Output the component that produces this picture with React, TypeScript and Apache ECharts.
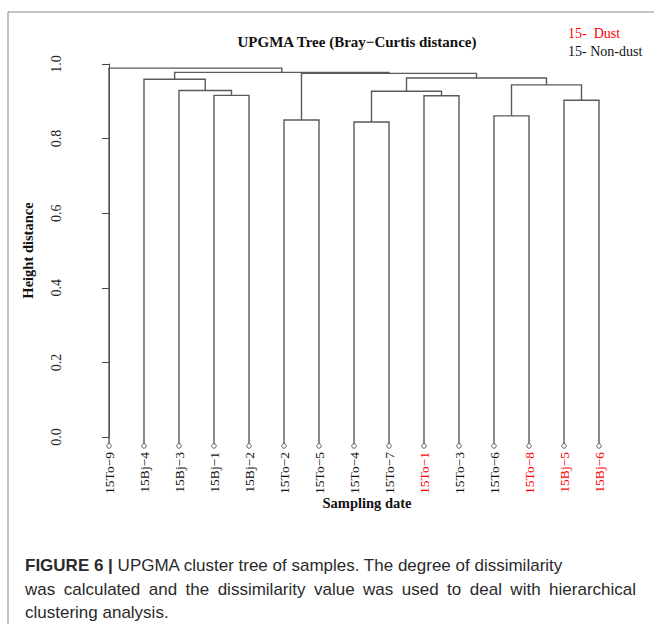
import React, { useEffect, useRef } from "react";
import * as echarts from "echarts";

// Leaf order along the x axis (left to right)
const leafLabels = [
  "15To−9", "15Bj−4", "15Bj−3", "15Bj−1", "15Bj−2",
  "15To−2", "15To−5", "15To−4", "15To−7", "15To−1",
  "15To−3", "15To−6", "15To−8", "15Bj−5", "15Bj−6",
];
// Samples collected on dust days (drawn in red)
const dustSamples = ["15To−1", "15To−8", "15Bj−5", "15Bj−6"];

// hclust-style merge table: negative = leaf (1-based position), positive = earlier merge step
const mergeLeft = [-8, -6, -12, -14, -10, -4, 1, -3, 3, -2, 7, 2, 10, -1];
const mergeRight = [-9, -7, -13, -15, -11, -5, 5, 6, 4, 8, 9, 11, 12, 13];
const mergeHeight = [
  0.8445, 0.85, 0.861, 0.903, 0.915, 0.916, 0.927, 0.929, 0.944, 0.959,
  0.9625, 0.975, 0.9775, 0.989,
];

const yTicks = [0, 0.2, 0.4, 0.6, 0.8, 1.0];
const leafHang = -0.024;

const captionLines = [
  "UPGMA cluster tree of samples. The degree of dissimilarity",
  "was calculated and the dissimilarity value was used to deal with hierarchical",
  "clustering analysis.",
];

const SERIF = "'Liberation Serif', 'Times New Roman', serif";
const SANS = "'Liberation Sans', Arial, sans-serif";
const RED = "#ff0000";
const CAPTION_FONT = `17px ${SANS}`;
const CAPTION_COLOR = "#2a2a2a";

// Build the U-shaped links: [xLeft, hLeft, xRight, hRight, hMerge]
function buildLinks() {
  const nodeX: number[] = [];
  const nodeH: number[] = [];
  const child = (id: number) =>
    id < 0 ? { x: -id - 1, h: leafHang } : { x: nodeX[id - 1], h: nodeH[id - 1] };
  const links: number[][] = [];
  mergeLeft.forEach((l, i) => {
    const a = child(l);
    const b = child(mergeRight[i]);
    const h = mergeHeight[i];
    nodeX.push((a.x + b.x) / 2);
    nodeH.push(h);
    links.push([a.x, a.h, b.x, b.h, h]);
  });
  return links;
}

// Lay out one caption line justified between x0 and x1
function justifiedWords(text: string, x0: number, x1: number, y: number) {
  const ctx = document.createElement("canvas").getContext("2d");
  const words = text.split(" ");
  if (!ctx) return [];
  ctx.font = CAPTION_FONT;
  const widths = words.map((w) => ctx.measureText(w).width);
  const total = widths.reduce((s, w) => s + w, 0);
  const gap = (x1 - x0 - total) / (words.length - 1);
  let x = x0;
  return words.map((w, i) => {
    const el = {
      type: "text",
      x,
      y,
      style: { text: w, font: CAPTION_FONT, fill: CAPTION_COLOR, verticalAlign: "middle" },
    };
    x += widths[i] + gap;
    return el;
  });
}

export default function App() {
  const ref = useRef<HTMLDivElement>(null);

  useEffect(() => {
    document.body.style.margin = "0";
    if (!ref.current) return;
    const chart = echarts.init(ref.current, null, { renderer: "svg" });
    const links = buildLinks();
    const leaves = leafLabels.map((_, i) => [i, leafHang]);
    const lineColor = "#5a5a5a";

    chart.setOption({
      animation: false,
      backgroundColor: "#fff",
      grid: { left: 109, right: 55, top: 64, bottom: 187, containLabel: false },
      xAxis: {
        type: "value",
        min: 0,
        max: leafLabels.length - 1,
        interval: 1,
        axisLine: { show: false },
        axisTick: { show: false },
        splitLine: { show: false },
        axisLabel: {
          rotate: 90,
          margin: 15,
          showMinLabel: true,
          showMaxLabel: true,
          hideOverlap: false,
          fontFamily: SERIF,
          fontSize: 13.5,
          formatter: (v: number) => leafLabels[v] ?? "",
          color: (v: any) => (dustSamples.includes(leafLabels[Number(v)]) ? RED : "#111"),
        },
      },
      yAxis: {
        type: "value",
        min: 0,
        max: 1,
        interval: 0.2,
        offset: 39,
        name: "Height distance",
        nameLocation: "middle",
        nameRotate: 90,
        nameGap: 35,
        nameTextStyle: { fontFamily: SERIF, fontWeight: "bold", fontSize: 14.5, color: "#111" },
        axisLine: { show: true, lineStyle: { color: "#444", width: 1 } },
        axisTick: { show: true, length: 7, lineStyle: { color: "#444" } },
        splitLine: { show: false },
        axisLabel: {
          rotate: 90,
          margin: 7,
          fontFamily: SERIF,
          fontSize: 14,
          color: "#222",
          customValues: yTicks,
          formatter: (v: number) => v.toFixed(1),
        },
      },
      series: [
        {
          type: "custom",
          clip: false,
          silent: true,
          data: links,
          renderItem: (_p: any, api: any) => {
            const p1 = api.coord([api.value(0), api.value(1)]);
            const p2 = api.coord([api.value(0), api.value(4)]);
            const p3 = api.coord([api.value(2), api.value(4)]);
            const p4 = api.coord([api.value(2), api.value(3)]);
            return {
              type: "polyline",
              shape: { points: [p1, p2, p3, p4] },
              style: { stroke: lineColor, lineWidth: 1.4, fill: "none" },
            };
          },
        },
        {
          type: "custom",
          clip: false,
          silent: true,
          data: leaves,
          renderItem: (_p: any, api: any) => {
            const c = api.coord([api.value(0), api.value(1)]);
            return {
              type: "circle",
              shape: { cx: c[0], cy: c[1], r: 2.3 },
              style: { stroke: "#666", lineWidth: 1, fill: "#fff" },
            };
          },
        },
      ],
      graphic: [
        { type: "line", shape: { x1: 8, y1: 12, x2: 654, y2: 12 }, style: { stroke: "#888", lineWidth: 1 } },
        { type: "line", shape: { x1: 8, y1: 12, x2: 8, y2: 624 }, style: { stroke: "#888", lineWidth: 1 } },
        {
          type: "text",
          x: 357,
          y: 42,
          style: {
            text: "UPGMA Tree (Bray−Curtis distance)",
            font: `bold 15px ${SERIF}`,
            fill: "#111",
            align: "center",
            verticalAlign: "middle",
          },
        },
        {
          type: "text",
          x: 568,
          y: 33,
          style: { text: "15-  Dust", font: `14px ${SERIF}`, fill: RED, align: "left", verticalAlign: "middle" },
        },
        {
          type: "text",
          x: 568,
          y: 51,
          style: { text: "15- Non-dust", font: `14px ${SERIF}`, fill: "#111", align: "left", verticalAlign: "middle" },
        },
        {
          type: "text",
          x: 367,
          y: 503,
          style: {
            text: "Sampling date",
            font: `bold 14.5px ${SERIF}`,
            fill: "#111",
            align: "center",
            verticalAlign: "middle",
          },
        },
        {
          type: "text",
          x: 25,
          y: 565,
          style: {
            text: `{b|FIGURE 6 |} ${captionLines[0]}`,
            font: CAPTION_FONT,
            fill: CAPTION_COLOR,
            verticalAlign: "middle",
            rich: { b: { font: `bold 17px ${SANS}`, fill: CAPTION_COLOR } },
          },
        },
        ...justifiedWords(captionLines[1], 25, 636, 589),
        {
          type: "text",
          x: 25,
          y: 612,
          style: { text: captionLines[2], font: CAPTION_FONT, fill: CAPTION_COLOR, verticalAlign: "middle" },
        },
      ],
    });
    return () => chart.dispose();
  }, []);

  return <div ref={ref} style={{ width: 654, height: 624 }} />;
}
